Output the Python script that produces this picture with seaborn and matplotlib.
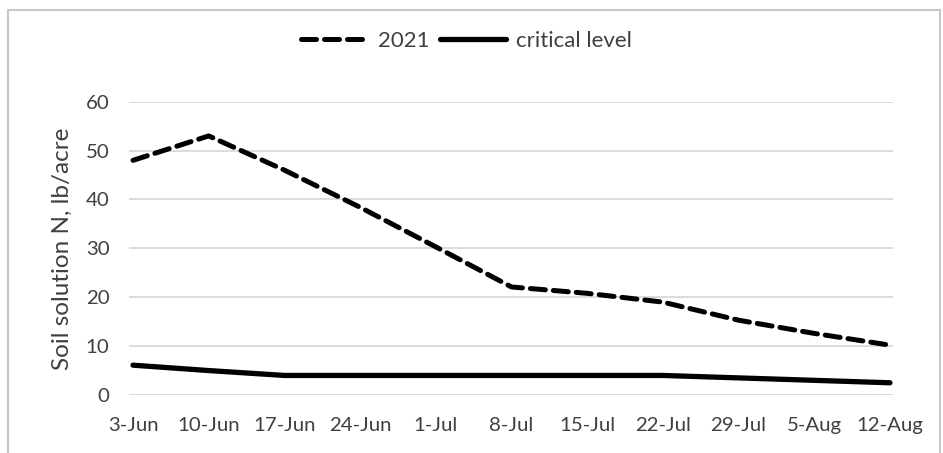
import matplotlib
matplotlib.use("Agg")
import matplotlib.pyplot as plt
import seaborn as sns
import pandas as pd
from matplotlib.lines import Line2D
from matplotlib.patches import Rectangle

dates = ["3-Jun", "10-Jun", "17-Jun", "24-Jun", "1-Jul", "8-Jul",
         "15-Jul", "22-Jul", "29-Jul", "5-Aug", "12-Aug"]
n_2021 = [48, 53, 46, 38.4, 30.3, 22.1, 20.8, 19, 15.3, 12.6, 10.2]
critical = [6.1, 5, 4, 4, 4, 4, 4, 4, 3.5, 3, 2.5]

sns.set_theme(style="white")
plt.rcParams["font.family"] = ["Lato", "DejaVu Sans"]
text_col = "#404040"

df = pd.DataFrame({"pos": range(len(dates)), "2021": n_2021, "critical level": critical})

fig = plt.figure(figsize=(9.43, 4.53), dpi=100)
ax = fig.add_axes([129 / 943, 1 - 395 / 453, (893 - 129) / 943, (395 - 101.7) / 453])

sns.lineplot(data=df, x="pos", y="2021", ax=ax, color="black", lw=3.6,
             solid_capstyle="round")
dashed = ax.lines[-1]
dashed.set_linestyle((0, (3.0, 1.6)))
dashed.set_dash_capstyle("round")
sns.lineplot(data=df, x="pos", y="critical level", ax=ax, color="black", lw=3.8,
             solid_capstyle="round")

ax.set_xlim(-0.053, len(dates) - 1 + 0.04)
ax.set_ylim(0, 60)
ax.set_yticks(range(0, 61, 10))
ax.set_xticks(range(len(dates)))
ax.set_xticklabels(dates)
ax.grid(axis="y", color="#d9d9d9", lw=1.3)
ax.set_axisbelow(True)
for s in ax.spines.values():
    s.set_visible(False)
ax.tick_params(axis="both", length=0, labelsize=14.7, colors=text_col)
ax.tick_params(axis="x", pad=16)
ax.tick_params(axis="y", pad=14)
ax.set_xlabel("")
ax.set_ylabel("Soil solution N, lb/acre", fontsize=17.5, color=text_col)
ax.yaxis.set_label_coords(-0.074, 0.5)

handles = [
    Line2D([0], [0], color="black", lw=3.6, linestyle=(0, (3.0, 1.6)),
           dash_capstyle="round"),
    Line2D([0], [0], color="black", lw=3.8, solid_capstyle="round"),
]
leg = fig.legend(handles, ["2021", "critical level"], loc="center",
                 bbox_to_anchor=(0.495, 0.909), ncol=2, frameon=False,
                 fontsize=16, handlelength=3.0, handletextpad=0.45,
                 columnspacing=0.45)
for t in leg.get_texts():
    t.set_color(text_col)

# chart frame
fig.patches.append(Rectangle((8 / 943, -0.05), (940 - 8) / 943, 1.05 - 10 / 453,
                             transform=fig.transFigure, fill=False,
                             edgecolor="#c8c8c8", lw=1.5))

fig.savefig("out.png", dpi=100)
